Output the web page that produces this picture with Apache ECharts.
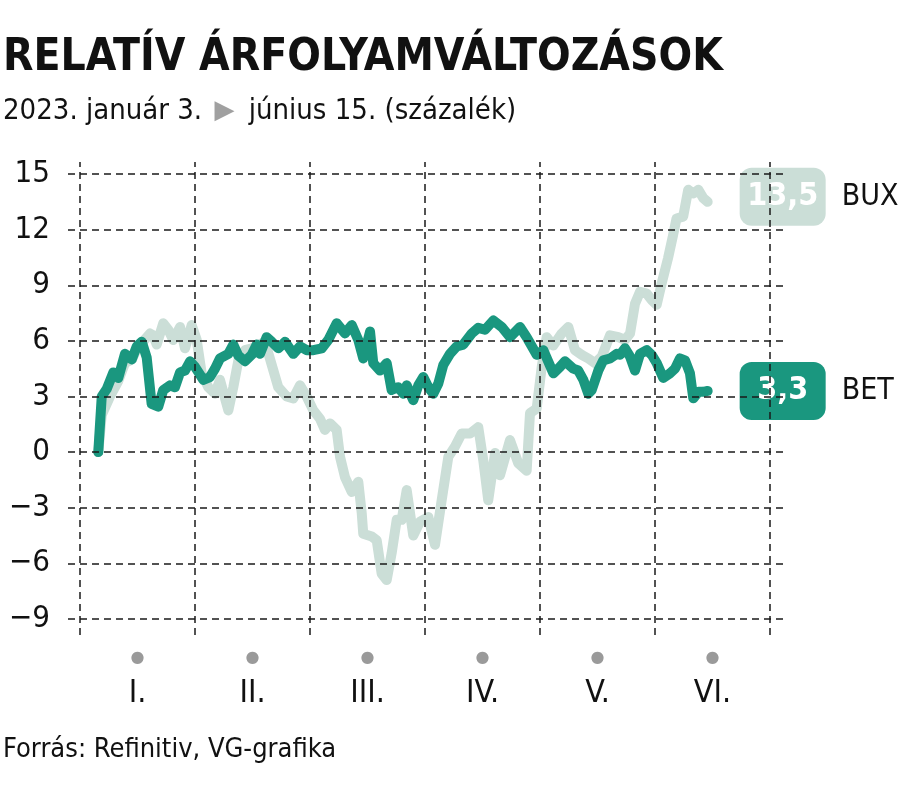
<!DOCTYPE html>
<html><head><meta charset="utf-8">
<script src="https://cdn.jsdelivr.net/npm/echarts@6/dist/echarts.min.js"></script>
<style>html,body{margin:0;padding:0;background:#fff}#c{width:900px;height:785px}</style>
</head><body><div id="c"></div>
<script>
// x positions in month units on the axis (0 = start of January, 6 = end of June)
var betX = [0.159,0.189,0.232,0.290,0.333,0.391,0.450,0.493,0.537,0.580,0.623,0.681,0.724,0.783,0.826,0.870,0.913,0.957,1.000,1.072,1.130,1.174,1.217,1.290,1.333,1.377,1.435,1.493,1.537,1.565,1.623,1.667,1.724,1.783,1.855,1.913,1.971,2.029,2.102,2.159,2.232,2.304,2.363,2.420,2.463,2.522,2.550,2.609,2.667,2.710,2.768,2.811,2.841,2.898,2.942,2.985,3.029,3.072,3.116,3.159,3.217,3.276,3.333,3.406,3.463,3.522,3.594,3.667,3.739,3.826,3.884,3.971,4.029,4.116,4.174,4.217,4.290,4.333,4.377,4.420,4.450,4.507,4.550,4.609,4.667,4.696,4.739,4.783,4.826,4.870,4.928,4.971,5.015,5.072,5.130,5.174,5.217,5.261,5.304,5.333,5.377,5.420,5.458];
var betValues = [0,3.0,3.4,4.3,4.0,5.3,5.0,5.7,5.95,5.1,2.6,2.45,3.35,3.6,3.5,4.3,4.4,4.9,4.6,3.9,4.05,4.5,5.05,5.3,5.8,5.2,4.9,5.25,5.8,5.3,6.2,5.95,5.6,5.95,5.3,5.7,5.5,5.5,5.6,6.05,6.95,6.4,6.85,6.05,5.05,6.5,4.8,4.4,4.8,3.35,3.5,3.15,3.6,2.8,3.6,4.05,3.5,3.15,3.7,4.7,5.3,5.7,5.8,6.4,6.7,6.6,7.1,6.75,6.2,6.75,6.2,5.25,5.5,4.25,4.6,4.9,4.5,4.4,3.9,3.15,3.35,4.4,4.95,5.05,5.3,5.25,5.6,5.15,4.4,5.3,5.5,5.25,4.8,4.0,4.25,4.5,5.05,4.95,4.25,2.9,3.25,3.25,3.3];
var buxX = [0.159,0.189,0.261,0.330,0.391,0.452,0.496,0.539,0.609,0.637,0.667,0.724,0.768,0.811,0.870,0.913,0.971,1.015,1.058,1.116,1.174,1.217,1.290,1.333,1.377,1.435,1.496,1.609,1.724,1.797,1.855,1.913,1.971,2.029,2.087,2.130,2.174,2.232,2.261,2.304,2.363,2.420,2.450,2.463,2.537,2.580,2.623,2.667,2.710,2.754,2.797,2.841,2.898,2.957,3.029,3.087,3.145,3.203,3.261,3.319,3.391,3.463,3.507,3.550,3.609,3.652,3.739,3.811,3.884,3.913,3.971,4.015,4.058,4.116,4.189,4.246,4.304,4.363,4.420,4.478,4.537,4.609,4.681,4.739,4.783,4.826,4.870,4.928,4.971,5.015,5.058,5.113,5.157,5.187,5.245,5.289,5.333,5.377,5.420,5.458];
var buxValues = [0,2.0,3.0,3.8,4.8,5.0,5.6,5.9,6.4,6.3,5.8,6.95,6.6,6.05,6.75,5.6,6.85,6.05,4.25,3.5,3.15,3.9,2.25,3.5,4.95,5.5,5.6,5.95,3.5,3.0,2.9,3.6,3.0,2.25,1.8,1.2,1.55,1.2,-0.25,-1.35,-2.15,-1.6,-3.3,-4.4,-4.55,-4.75,-6.55,-6.9,-5.45,-3.65,-3.65,-2.05,-4.5,-3.75,-3.5,-5.0,-2.6,-0.25,0.3,1.0,1.0,1.35,-0.45,-2.6,-0.05,-1.25,0.65,-0.6,-1.0,2.1,2.35,4.6,6.2,5.75,6.4,6.75,5.5,5.25,5.05,4.8,5.15,6.3,6.2,6.05,6.4,8.0,8.65,8.55,8.2,7.95,9.1,10.45,11.7,12.6,12.7,14.15,13.95,14.15,13.7,13.5];
var yTicks = [-9,-6,-3,0,3,6,9,12,15];
var monthLabels = ['I.','II.','III.','IV.','V.','VI.'];
var monthBounds = [0,1,2,3,4,5,6];
var monthCenters = [0.5,1.5,2.5,3.5,4.5,5.5];
var seriesNames = ['BUX','BET'];

var FONT = "'Liberation Sans Narrow','DejaVu Sans Condensed','Roboto',sans-serif";
var BET_COLOR = '#1a977f', BUX_COLOR = '#cbded7';
function pairs(xs, ys){ return xs.map(function(x,i){ return [x, ys[i]]; }); }
function fmt(v){ return String(v).replace('.', ','); }

var chart = echarts.init(document.getElementById('c'), null, {renderer:'canvas'});
var gridLine = {color:'#1a1a1a', width:1.5, type:[7,5]};
function endRich(color){
  return {v:{backgroundColor:color, color:'#fff', fontWeight:'bold', fontSize:32, fontFamily:FONT,
             width:86, height:58, lineHeight:58, align:'center', borderRadius:12},
          n:{color:'#111', fontSize:30, fontFamily:FONT, padding:[0,0,0,16]}};
}
chart.setOption({
  animation:false,
  textStyle:{fontFamily:FONT},
  title:[
    {text:'RELATÍV ÁRFOLYAMVÁLTOZÁSOK', left:3, top:37, padding:0,
     textStyle:{fontFamily:FONT, fontSize:44, fontWeight:'bold', color:'#111'}},
    {text:'2023. január 3. {t|▶} június 15. (százalék)', left:3, top:97, padding:0,
     textStyle:{fontFamily:FONT, fontSize:29, fontWeight:'normal', color:'#111',
       rich:{t:{fontSize:26, color:'#a0a0a0', fontFamily:'DejaVu Sans', padding:[0,6,0,4]}}}},
    {text:'Forrás: Refinitiv, VG-grafika', left:3, top:736, padding:0,
     textStyle:{fontFamily:FONT, fontSize:27, fontWeight:'normal', color:'#111'}}
  ],
  grid:{left:68, right:115, top:162, bottom:150},
  xAxis:{type:'value', min:-12/115, max:6+15/115,
    axisLine:{show:false}, axisTick:{show:false}, splitLine:{show:false},
    axisLabel:{customValues:monthCenters, margin:12,
      formatter:function(v){ return '{d|●}\n{m|'+monthLabels[Math.floor(v)]+'}'; },
      rich:{d:{fontSize:16, lineHeight:22, color:'#9a9a9a', fontFamily:'DejaVu Sans'},
            m:{fontSize:32, lineHeight:50, color:'#111', fontFamily:FONT}}}},
  yAxis:{type:'value', min:-9-16/18.53, max:15+12/18.53,
    axisLine:{show:false}, axisTick:{show:false}, splitLine:{show:false},
    axisLabel:{customValues:yTicks, margin:18, fontSize:31, color:'#111', fontFamily:FONT,
      formatter:function(v){ return String(v).replace('-', '\u2212'); }}},
  series:[
    {type:'line', data:[], z:1, silent:true,
     markLine:{silent:true, symbol:['none','none'], label:{show:false},
       lineStyle:gridLine, emphasis:{disabled:true},
       data: yTicks.map(function(v){return {yAxis:v};}).concat(
             monthBounds.map(function(v){return {xAxis:v};}))}},
    {name:seriesNames[0], type:'line', data:pairs(buxX, buxValues), z:3,
     showSymbol:false, lineStyle:{color:BUX_COLOR, width:10, join:'round', cap:'round'},
     itemStyle:{color:BUX_COLOR},
     endLabel:{show:true, distance:32, offset:[0,-5],
       formatter:function(p){ return '{v|'+fmt(p.value[1])+'}{n|'+seriesNames[0]+'}'; },
       rich:endRich(BUX_COLOR)}},
    {name:seriesNames[1], type:'line', data:pairs(betX, betValues), z:4,
     showSymbol:false, lineStyle:{color:BET_COLOR, width:10, join:'round', cap:'round'},
     itemStyle:{color:BET_COLOR},
     endLabel:{show:true, distance:32,
       formatter:function(p){ return '{v|'+fmt(p.value[1])+'}{n|'+seriesNames[1]+'}'; },
       rich:endRich(BET_COLOR)}}
  ]
});
</script></body></html>
